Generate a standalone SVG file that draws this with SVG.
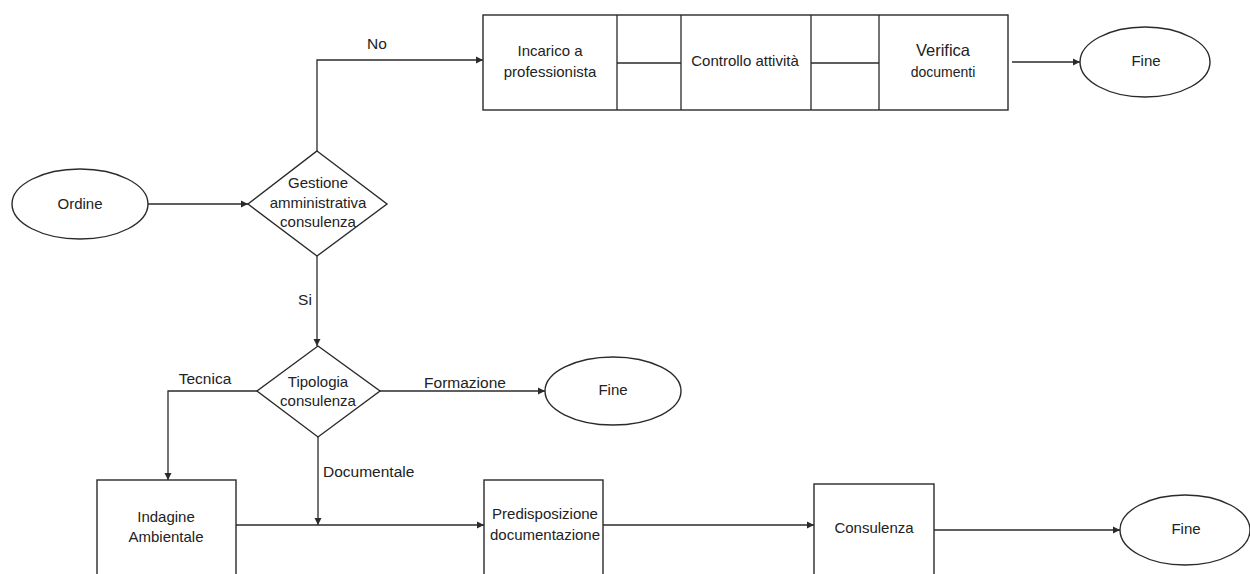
<svg xmlns="http://www.w3.org/2000/svg" width="1250" height="574" viewBox="0 0 1250 574">
<style>
.s{fill:#fff;stroke:#2a2a2a;stroke-width:1.4}
.l{fill:none;stroke:#2a2a2a;stroke-width:1.3}
text{font-family:"Liberation Sans",Arial,sans-serif;font-size:15px;fill:#222;text-anchor:middle;dominant-baseline:middle}
.lab{font-size:15.5px}
.lb{text-anchor:start}
</style>
<defs>
<marker id="a" markerWidth="8" markerHeight="8" refX="7" refY="4" orient="auto" markerUnits="userSpaceOnUse">
<path d="M0,0.5 L7,4 L0,7.5 Z" fill="#2a2a2a"/>
</marker>
</defs>
<rect width="1250" height="574" fill="#fff"/>
<g id="connectors">
<path class="l" d="M317,151 V60 H483" marker-end="url(#a)"/>
<path class="l" d="M148,204 H248" marker-end="url(#a)"/>
<path class="l" d="M1012,62 H1080" marker-end="url(#a)"/>
<path class="l" d="M317,256 V346" marker-end="url(#a)"/>
<path class="l" d="M257,391 H168 V480" marker-end="url(#a)"/>
<path class="l" d="M380,391 H545" marker-end="url(#a)"/>
<path class="l" d="M318,437 V525" marker-end="url(#a)"/>
<path class="l" d="M236,525 H484" marker-end="url(#a)"/>
<path class="l" d="M603,525 H814" marker-end="url(#a)"/>
<path class="l" d="M934,530 H1120" marker-end="url(#a)"/>
<text class="lab" x="377" y="45">No</text>
<text class="lab" x="305" y="301">Si</text>
<text class="lab" x="205" y="380">Tecnica</text>
<text class="lab" x="465" y="384">Formazione</text>
<text class="lab lb" x="323" y="473">Documentale</text>
</g>
<g id="ordine">
<ellipse class="s" cx="80" cy="204" rx="68" ry="35"/>
<text x="80" y="205">Ordine</text>
</g>
<g id="gestione">
<polygon class="s" points="317,151 387,204 317,256 248,204"/>
<text x="318" y="184">Gestione</text>
<text x="318" y="204">amministrativa</text>
<text x="318" y="223">consulenza</text>
</g>
<g id="processo-top">
<rect class="s" x="483" y="15" width="525" height="95"/>
<path class="l" d="M617,15 V110 M681,15 V110 M811,15 V110 M879,15 V110 M617,63 H681 M811,63 H879"/>
<text x="550" y="52">Incarico a</text>
<text x="550" y="73">professionista</text>
<text x="745" y="62">Controllo attività</text>
<text x="943" y="52" style="font-size:16.5px">Verifica</text>
<text x="943" y="73" style="font-size:14px">documenti</text>
</g>
<g id="fine1">
<ellipse class="s" cx="1145" cy="62" rx="65" ry="35"/>
<text x="1146" y="62">Fine</text>
</g>
<g id="tipologia">
<polygon class="s" points="318,346 380,391 318,437 257,391"/>
<text x="318" y="383">Tipologia</text>
<text x="318" y="402">consulenza</text>
</g>
<g id="fine2">
<ellipse class="s" cx="613" cy="391" rx="68" ry="34"/>
<text x="613" y="391">Fine</text>
</g>
<g id="indagine">
<rect class="s" x="97" y="480" width="139" height="100"/>
<text x="166" y="518">Indagine</text>
<text x="166" y="538">Ambientale</text>
</g>
<g id="predisposizione">
<rect class="s" x="484" y="480" width="119" height="100"/>
<text x="545" y="515">Predisposizione</text>
<text x="545" y="536">documentazione</text>
</g>
<g id="consulenza">
<rect class="s" x="814" y="484" width="120" height="100"/>
<text x="874" y="529">Consulenza</text>
</g>
<g id="fine3">
<ellipse class="s" cx="1185" cy="530" rx="65" ry="35"/>
<text x="1186" y="530">Fine</text>
</g>
</svg>
